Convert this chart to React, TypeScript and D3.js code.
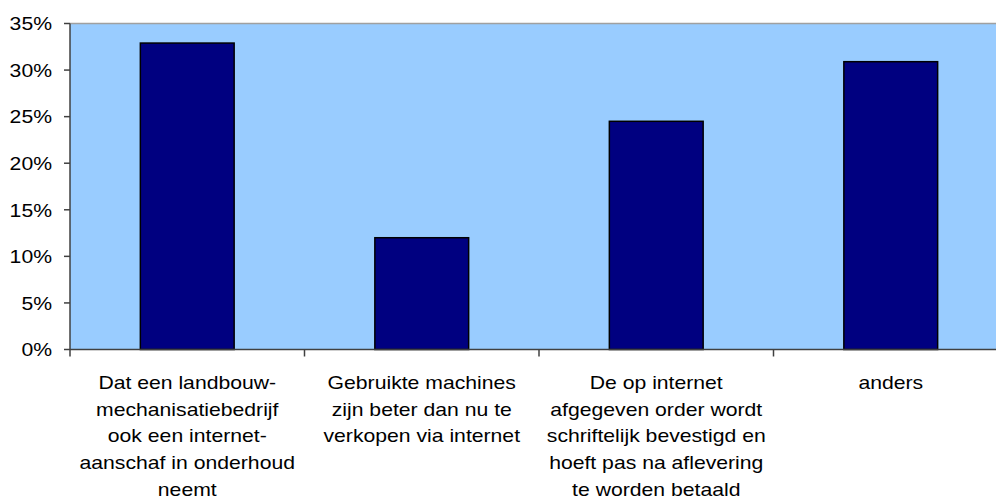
import React from "react";
import * as d3 from "d3";

const categories: string[][] = [
  ["Dat een landbouw-", "mechanisatiebedrijf", "ook een internet-", "aanschaf in onderhoud", "neemt"],
  ["Gebruikte machines", "zijn beter dan nu te", "verkopen via internet"],
  ["De op internet", "afgegeven order wordt", "schriftelijk bevestigd en", "hoeft pas na aflevering", "te worden betaald"],
  ["anders"],
];
const values: number[] = [32.9, 12.0, 24.5, 30.9];
const yTicks: number[] = [0, 5, 10, 15, 20, 25, 30, 35];

const W = 996;
const H = 504;
const left = 70;
const right = 1008;
const top = 23.5;
const bottom = 349.5;
const FONT = "Liberation Sans, Arial, sans-serif";
const FS = 19;
const SX = 1.115;

export default function App() {
  const ids = categories.map((_, i) => String(i));
  const x = d3.scaleBand<string>().domain(ids).range([left, right]).paddingInner(0.6).paddingOuter(0.3);
  const xb = d3.scaleBand<string>().domain(ids).range([left, right]);
  const y = d3.scaleLinear().domain([0, 35]).range([bottom, top]);

  return (
    <svg width={W} height={H} style={{ position: "absolute", left: 0, top: 0 }} xmlns="http://www.w3.org/2000/svg">
      <rect x={0} y={0} width={W} height={H} fill="#ffffff" />
      <rect x={left} y={top} width={right - left} height={bottom - top} fill="#99CCFF" />
      <line x1={left} x2={right} y1={top} y2={top} stroke="#a0a0a0" strokeWidth={1.5} />
      {ids.map((id, i) => (
        <rect
          key={id}
          x={x(id)!}
          y={y(values[i])}
          width={x.bandwidth()}
          height={bottom - y(values[i])}
          fill="#000080"
          stroke="#000000"
          strokeWidth={1.5}
        />
      ))}
      <line x1={left} x2={left} y1={top} y2={bottom} stroke="#404040" strokeWidth={1.5} />
      <line x1={left} x2={right} y1={bottom} y2={bottom} stroke="#404040" strokeWidth={1.5} />
      {yTicks.map((t) => (
        <g key={t}>
          <line x1={left - 6} x2={left} y1={y(t)} y2={y(t)} stroke="#404040" strokeWidth={1.5} />
          <text
            transform={`translate(${52},${y(t)}) scale(${SX},1)`}
            textAnchor="end"
            dy="0.36em"
            fontFamily={FONT}
            fontSize={FS}
            fill="#000"
          >
            {t + "%"}
          </text>
        </g>
      ))}
      {ids.map((id) => (
        <line key={"t" + id} x1={xb(id)!} x2={xb(id)!} y1={bottom} y2={bottom + 7} stroke="#404040" strokeWidth={1.5} />
      ))}
      {ids.map((id, i) => {
        const cx = xb(id)! + xb.bandwidth() / 2;
        return (
          <g key={"l" + id} transform={`translate(${cx},0) scale(${SX},1)`}>
            {categories[i].map((line, j) => (
              <text key={j} x={0} y={389 + j * 26.7} textAnchor="middle" fontFamily={FONT} fontSize={FS} fill="#000">
                {line}
              </text>
            ))}
          </g>
        );
      })}
    </svg>
  );
}
